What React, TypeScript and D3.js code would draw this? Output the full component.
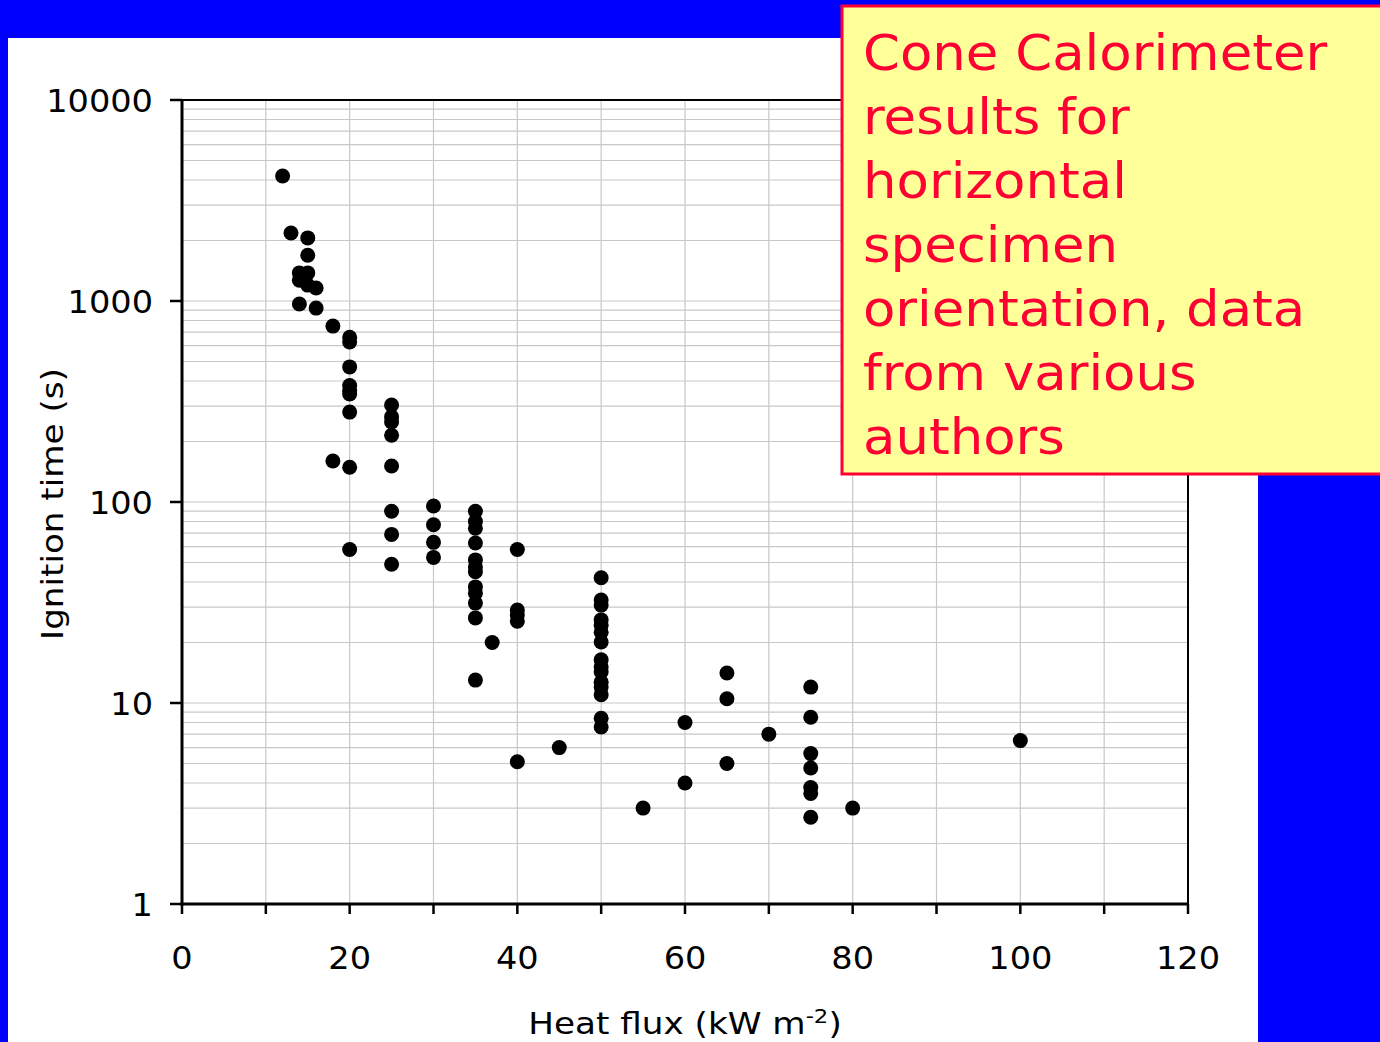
import React from 'react';
import * as d3 from 'd3';

// heat flux (kW m-2) and ignition time (s), paired by index
const heatFlux = [
  12, 13, 14, 14, 14, 15, 15, 15, 15, 16, 16, 18, 18,
  20, 20, 20, 20, 20, 20, 20, 20, 20,
  25, 25, 25, 25, 25, 25, 25, 25,
  30, 30, 30, 30,
  35, 35, 35, 35, 35, 35, 35, 35, 35, 35, 35, 35,
  37, 40, 40, 40, 40, 40, 45,
  50, 50, 50, 50, 50, 50, 50, 50, 50, 50, 50, 50, 50, 50, 50,
  55, 60, 60, 65, 65, 65, 70,
  75, 75, 75, 75, 75, 75, 75, 80, 100,
];
const ignitionTime = [
  4190, 2180, 1380, 1270, 967, 2060, 1690, 1380, 1200, 1160, 922, 750, 160,
  660, 625, 470, 380, 360, 345, 280, 149, 58,
  304, 265, 250, 215, 151, 90, 69, 49,
  95.5, 77, 63, 53,
  90, 80, 74, 62.5, 51.5, 47.5, 45, 37.8, 35.2, 31.4, 26.5, 13,
  20, 58, 29, 27.4, 25.5, 5.1, 6,
  42, 32.5, 30.7, 25.9, 24.4, 22.5, 20.1, 16.4, 15.1, 14.3, 12.7, 12.0, 11.0, 8.4, 7.6,
  3, 8, 4, 14.1, 10.5, 5, 7,
  12, 8.5, 5.6, 4.75, 3.8, 3.55, 2.7, 3, 6.5,
];

const xTicks = [0, 20, 40, 60, 80, 100, 120];
const yTicks = [1, 10, 100, 1000, 10000];
const noteLines = [
  'Cone Calorimeter',
  'results for',
  'horizontal',
  'specimen',
  'orientation, data',
  'from various',
  'authors',
];

const W = 1380, H = 1042;
const margin = { top: 100, right: 192, bottom: 138, left: 182 };
const font = '"DejaVu Sans", Verdana, sans-serif';

// the slide text is a little wider than DejaVu, so stretch it sideways
const Stretched = ({ x, y, sx, anchor, size, fill, rotate, children }: any) => (
  <text
    transform={`translate(${x},${y})${rotate ? ` rotate(${rotate})` : ''} scale(${sx},1)`}
    textAnchor={anchor}
    fontFamily={font}
    fontSize={size}
    fill={fill || '#000'}
  >
    {children}
  </text>
);

const App = () => {
  const x = d3.scaleLinear().domain([0, 120]).range([margin.left, W - margin.right]);
  const y = d3.scaleLog().domain([1, 10000]).range([H - margin.bottom, margin.top]);

  const xGrid = d3.range(10, 120, 10);
  const yGrid: number[] = [];
  for (let d = 1; d < 10000; d *= 10) {
    for (let k = 2; k <= 10; k++) yGrid.push(d * k);
  }
  const [x0, x1] = x.range();
  const [y0, y1] = y.range();

  return (
    <svg width={W} height={H} style={{ position: 'absolute', left: 0, top: 0, display: 'block' }}>
      <rect x={0} y={0} width={W} height={H} fill="#0000ff" />
      <rect x={8} y={38} width={1250} height={H - 38} fill="#ffffff" />

      {/* grid */}
      <g stroke="#c8c8c8" strokeWidth={1.2}>
        {yGrid.map((v) => (
          <line key={'h' + v} x1={x0} x2={x1} y1={y(v)} y2={y(v)} />
        ))}
        {xGrid.map((v) => (
          <line key={'v' + v} x1={x(v)} x2={x(v)} y1={y0} y2={y1} />
        ))}
      </g>

      {/* frame */}
      <line x1={x0} x2={x1} y1={y1} y2={y1} stroke="#000" strokeWidth={2} />
      <line x1={x1} x2={x1} y1={y1} y2={y0} stroke="#000" strokeWidth={2} />
      <line x1={x0} x2={x0} y1={y1} y2={y0 + 1.5} stroke="#000" strokeWidth={3} />
      <line x1={x0 - 1.5} x2={x1} y1={y0} y2={y0} stroke="#000" strokeWidth={3} />

      {/* x ticks */}
      {d3.range(0, 130, 10).map((v) => (
        <line key={'xt' + v} x1={x(v)} x2={x(v)} y1={y0} y2={y0 + 10} stroke="#000" strokeWidth={2.5} />
      ))}
      {xTicks.map((v) => (
        <Stretched key={'xl' + v} x={x(v)} y={y0 + 65} sx={1.05} anchor="middle" size={32}>
          {v}
        </Stretched>
      ))}

      {/* y ticks */}
      {yTicks.map((v) => (
        <g key={'yt' + v}>
          <line x1={x0 - 12} x2={x0} y1={y(v)} y2={y(v)} stroke="#000" strokeWidth={2.5} />
          <Stretched x={x0 - 29} y={y(v) + 12} sx={1.05} anchor="end" size={32}>
            {v}
          </Stretched>
        </g>
      ))}

      {/* points */}
      <g fill="#000">
        {heatFlux.map((hf, i) => (
          <circle key={i} cx={x(hf)} cy={y(ignitionTime[i])} r={7.5} />
        ))}
      </g>

      {/* axis titles */}
      <Stretched x={685} y={1034} sx={1.14} anchor="middle" size={30}>
        Heat flux (kW m
        <tspan dy={-11} fontSize={20}>-2</tspan>
        <tspan dy={11}>)</tspan>
      </Stretched>
      <Stretched x={63} y={(y0 + y1) / 2 + 2} rotate={-90} sx={1.14} anchor="middle" size={30}>
        Ignition time (s)
      </Stretched>

      {/* note box */}
      <rect x={842} y={6} width={560} height={468} fill="#ffff99" stroke="#ff0033" strokeWidth={3} />
      <g transform="translate(863,0) scale(1.08,1)">
        <text fontFamily={font} fontSize={49} fill="#ff0033">
          {noteLines.map((t, i) => (
            <tspan key={i} x={0} y={70 + i * 64}>
              {t}
            </tspan>
          ))}
        </text>
      </g>
    </svg>
  );
};

export default App;
